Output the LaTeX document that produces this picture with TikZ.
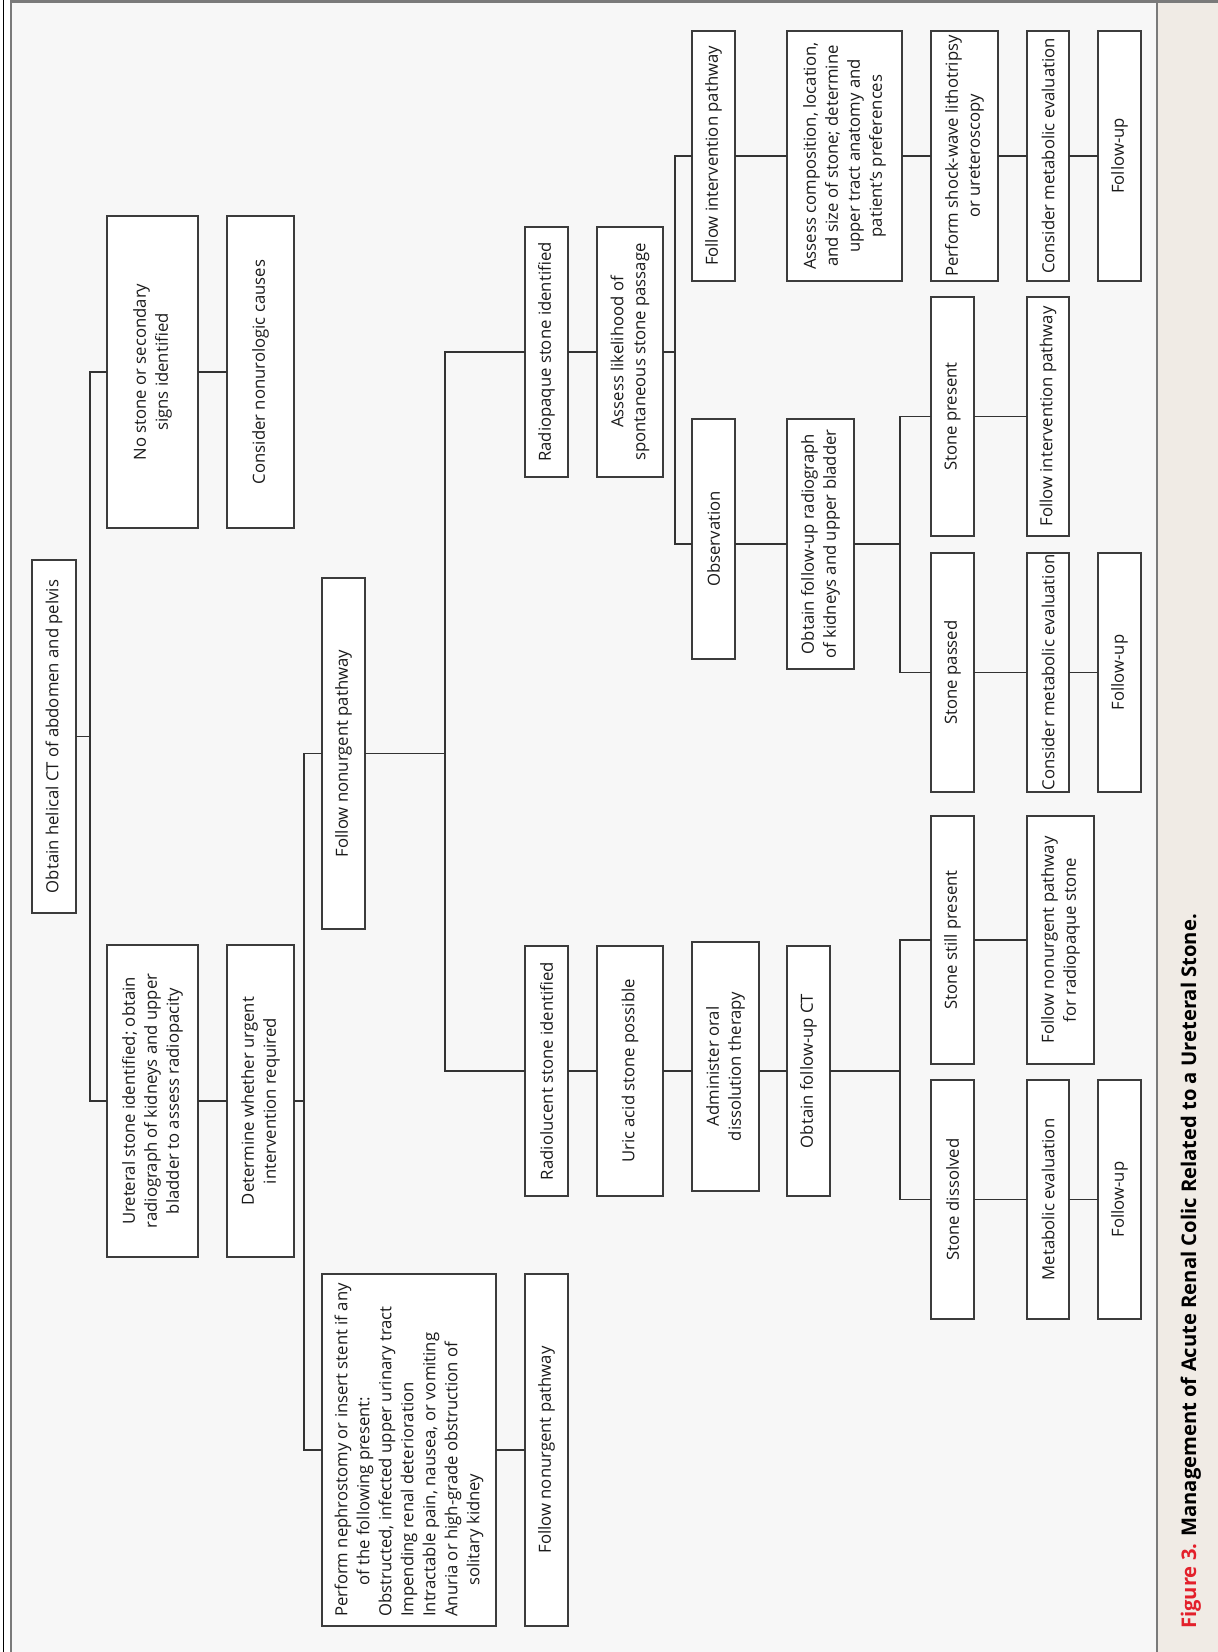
\documentclass[tikz,border=0pt]{standalone}
\usepackage{fontspec}
\setmainfont{Open Sans}
\definecolor{bgc}{HTML}{F7F7F7}
\definecolor{panelc}{HTML}{F0EBE5}
\definecolor{framec}{HTML}{7A7A7A}
\definecolor{boxc}{HTML}{3C3C3C}
\definecolor{linec}{HTML}{333333}
\definecolor{txt}{HTML}{1A1A1A}
\definecolor{figred}{HTML}{E3202B}
\newcommand{\bxnode}[7][]{%
  \pgfmathsetmacro\bxW{#6-#4}%
  \pgfmathsetmacro\bxH{#5-#3}%
  \pgfmathsetmacro\bxX{(#3+#5)/2}%
  \pgfmathsetmacro\bxY{(#4+#6)/2}%
  \node[bx,#1,minimum width=\bxW pt,minimum height=\bxH pt] (#2) at (\bxX,\bxY) {#7};%
}
\begin{document}
\begin{tikzpicture}[x=1pt,y=-1pt,
  bx/.style={draw=boxc, fill=white, line width=1.3pt, rotate=90, inner sep=0pt,
    outer sep=0pt, align=center, text=txt, font=\fontsize{16.7}{22}\selectfont},
  ln/.style={draw=linec, line width=1.3pt}]
\useasboundingbox (0,0) rectangle (1218,1652);
% frame and background
\fill[white] (0,0) rectangle (1218,1652);
\fill[bgc] (11,2) rectangle (1157,1652);
\fill[panelc] (1157,2) rectangle (1218,1652);
\draw[black, line width=0.9pt] (3.3,0) -- (3.3,1652);
\draw[framec, line width=2.4pt] (11,1652) -- (11,1.5) -- (1218,1.5);
\draw[framec, line width=2.2pt] (1157,1.5) -- (1157,1652);

% boxes
\bxnode{ct}{32}{560}{76}{913}{Obtain helical CT of abdomen and pelvis}
\bxnode{nostone}{107}{216}{198}{528}{No stone or secondary\\signs identified}
\bxnode{ureteral}{107}{945}{198}{1257}{Ureteral stone identified; obtain\\radiograph of kidneys and upper\\bladder to assess radiopacity}
\bxnode{nonuro}{227}{216}{294}{528}{Consider nonurologic causes}
\bxnode{determine}{227}{945}{294}{1257}{Determine whether urgent\\intervention required}
\bxnode{nonurgA}{322}{578}{365}{929}{Follow nonurgent pathway}
\bxnode[align=left]{nephro}{322}{1274}{496}{1626}{Perform nephrostomy or insert stent if any\\\hspace*{31pt}of the following present:\\Obstructed, infected upper urinary tract\\Impending renal deterioration\\Intractable pain, nausea, or vomiting\\Anuria or high-grade obstruction of\\\hspace*{31pt}solitary kidney}
\bxnode{nonurgB}{525}{1274}{568}{1626}{Follow nonurgent pathway}
\bxnode{opaque}{525}{227}{568}{477}{Radiopaque stone identified}
\bxnode{lucent}{525}{946}{568}{1196}{Radiolucent stone identified}
\bxnode{likeli}{597}{227}{663}{477}{Assess likelihood of\\spontaneous stone passage}
\bxnode{uric}{597}{946}{663}{1196}{Uric acid stone possible}
\bxnode{intervA}{692}{31}{735}{281}{Follow intervention pathway}
\bxnode{observ}{692}{419}{735}{659}{Observation}
\bxnode{admin}{692}{942}{759}{1191}{Administer oral\\dissolution therapy}
\bxnode{assess}{787}{31}{902}{281}{Assess composition, location,\\and size of stone; determine\\upper tract anatomy and\\patient's preferences}
\bxnode{radiog}{787}{419}{854}{669}{Obtain follow-up radiograph\\of kidneys and upper bladder}
\bxnode{fct}{787}{946}{830}{1196}{Obtain follow-up CT}
\bxnode{swl}{931}{31}{998}{281}{Perform shock-wave lithotripsy\\or ureteroscopy}
\bxnode{present}{931}{297}{974}{536}{Stone present}
\bxnode{passed}{931}{553}{974}{792}{Stone passed}
\bxnode{still}{931}{816}{974}{1064}{Stone still present}
\bxnode{dissolved}{931}{1080}{974}{1319}{Stone dissolved}
\bxnode{cmeA}{1027}{31}{1069}{281}{Consider metabolic evaluation}
\bxnode{intervB}{1027}{297}{1069}{536}{Follow intervention pathway}
\bxnode{cmeB}{1027}{553}{1069}{792}{Consider metabolic evaluation}
\bxnode{nonurgC}{1027}{816}{1094}{1064}{Follow nonurgent pathway\\for radiopaque stone}
\bxnode{meteval}{1027}{1080}{1069}{1319}{Metabolic evaluation}
\bxnode{fuA}{1098}{31}{1141}{281}{Follow-up}
\bxnode{fuB}{1098}{553}{1141}{792}{Follow-up}
\bxnode{fuC}{1098}{1080}{1141}{1319}{Follow-up}

% junction columns
\coordinate (jA) at (90,0);
\coordinate (jB) at (304,0);
\coordinate (jC) at (445,0);
\coordinate (jD) at (675,0);
\coordinate (jE) at (900,0);

% connectors
\draw[ln] (ct.south) -- (ct.south -| jA);
\draw[ln] (nostone.north) -- (nostone.north -| jA) -- (ureteral.north -| jA) -- (ureteral.north);
\draw[ln] (nostone.south) -- (nonuro.north);
\draw[ln] (ureteral.south) -- (determine.north);
\draw[ln] (determine.south) -- (determine.south -| jB);
\draw[ln] (nonurgA.north) -- (nonurgA.north -| jB) -- (nephro.north -| jB) -- (nephro.north);
\draw[ln] (nephro.south) -- (nonurgB.north);
\draw[ln] (nonurgA.south) -- (nonurgA.south -| jC);
\draw[ln] (opaque.north) -- (opaque.north -| jC) -- (lucent.north -| jC) -- (lucent.north);
\draw[ln] (opaque.south) -- (likeli.north);
\draw[ln] (likeli.south) -- (likeli.south -| jD);
\draw[ln] (intervA.north) -- (intervA.north -| jD) -- (radiog.north -| jD) -- (radiog.north -| observ.north);
\draw[ln] (intervA.south) -- (assess.north);
\draw[ln] (assess.south) -- (swl.north);
\draw[ln] (swl.south) -- (cmeA.north);
\draw[ln] (cmeA.south) -- (fuA.north);
\draw[ln] (radiog.north -| observ.south) -- (radiog.north);
\draw[ln] (radiog.south) -- (radiog.south -| jE);
\draw[ln] (present.north) -- (present.north -| jE) -- (passed.north -| jE) -- (passed.north);
\draw[ln] (present.south) -- (intervB.north);
\draw[ln] (passed.south) -- (cmeB.north);
\draw[ln] (cmeB.south) -- (fuB.north);
\draw[ln] (lucent.south) -- (uric.north);
\draw[ln] (uric.south) -- (uric.south -| admin.north);
\draw[ln] (admin.south |- fct.north) -- (fct.north);
\draw[ln] (fct.south) -- (fct.south -| jE);
\draw[ln] (still.north) -- (still.north -| jE) -- (dissolved.north -| jE) -- (dissolved.north);
\draw[ln] (still.south) -- (nonurgC.north);
\draw[ln] (dissolved.south) -- (meteval.north);
\draw[ln] (meteval.south) -- (fuC.north);

% caption
\node[rotate=90, anchor=base west, inner sep=0pt, font=\fontsize{20.2}{24}\selectfont\bfseries] (cap) at (1196,1629)
  {\textcolor{figred}{Figure 3.} Management of Acute Renal Colic Related to a Ureteral Stone.};
\end{tikzpicture}
\end{document}
